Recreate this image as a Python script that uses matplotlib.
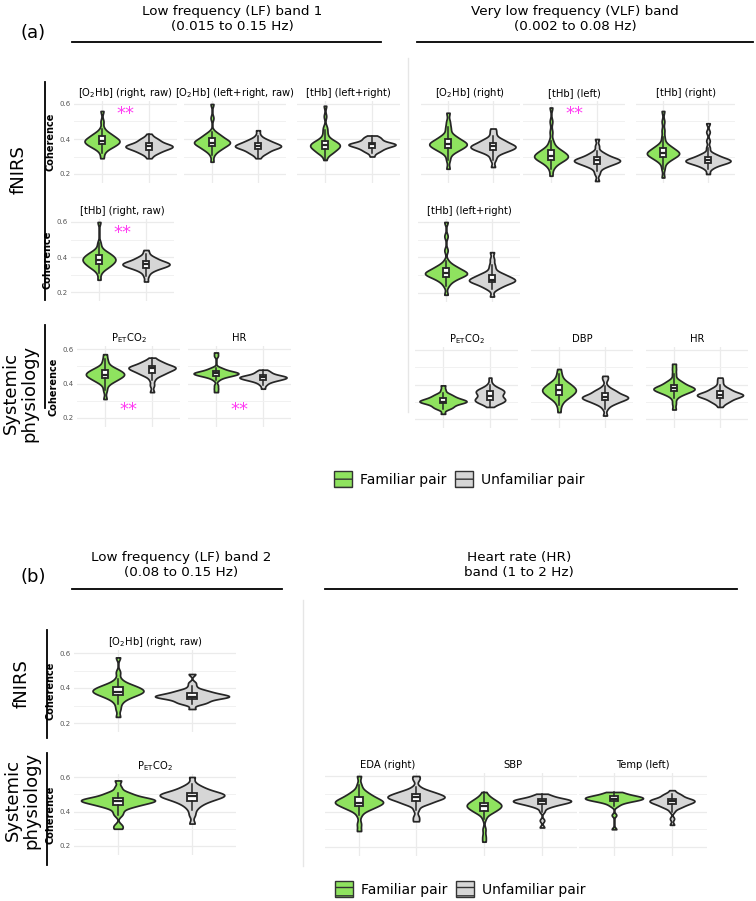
import numpy as np
import matplotlib
matplotlib.use("Agg")
import matplotlib.pyplot as plt
from matplotlib.patches import Patch
from matplotlib.lines import Line2D

plt.rcParams['font.family'] = ['DejaVu Sans']
plt.rcParams['mathtext.fontset'] = 'dejavusans'

# ---------------- data (coherence samples) ----------------
groups = ["Familiar pair", "Unfamiliar pair"]

# (a) LF band 1 - fNIRS
lf1_o2hb_right_raw_fam = [0.29, 0.32, 0.34, 0.35, 0.36, 0.37, 0.37, 0.38, 0.38, 0.39, 0.39, 0.40, 0.40, 0.41, 0.42, 0.43, 0.44, 0.46, 0.50, 0.56,
                          0.35, 0.36, 0.37, 0.38, 0.39, 0.39, 0.40, 0.41, 0.42, 0.43]
lf1_o2hb_right_raw_unf = [0.29, 0.31, 0.32, 0.33, 0.34, 0.34, 0.35, 0.35, 0.35, 0.36, 0.36, 0.36, 0.36, 0.37, 0.37, 0.38, 0.39, 0.40, 0.41, 0.43,
                          0.32, 0.33, 0.34, 0.35, 0.36, 0.36, 0.37, 0.38, 0.39, 0.40]
lf1_o2hb_lr_raw_fam = [0.27, 0.31, 0.33, 0.34, 0.35, 0.36, 0.37, 0.37, 0.38, 0.38, 0.38, 0.39, 0.39, 0.40, 0.41, 0.42, 0.43, 0.44, 0.52, 0.60,
                       0.34, 0.35, 0.36, 0.37, 0.38, 0.38, 0.39, 0.40, 0.41, 0.42]
lf1_o2hb_lr_raw_unf = [0.29, 0.31, 0.32, 0.33, 0.34, 0.35, 0.35, 0.35, 0.36, 0.36, 0.36, 0.36, 0.37, 0.37, 0.38, 0.38, 0.39, 0.40, 0.42, 0.45,
                       0.32, 0.33, 0.34, 0.35, 0.36, 0.36, 0.37, 0.38, 0.39, 0.40]
lf1_thb_lr_fam = [0.28, 0.31, 0.32, 0.33, 0.34, 0.35, 0.35, 0.36, 0.36, 0.37, 0.37, 0.38, 0.38, 0.39, 0.41, 0.43, 0.45, 0.47, 0.53, 0.59,
                  0.32, 0.33, 0.34, 0.35, 0.36, 0.36, 0.37, 0.38, 0.39, 0.40]
lf1_thb_lr_unf = [0.30, 0.32, 0.33, 0.34, 0.35, 0.35, 0.36, 0.36, 0.36, 0.37, 0.37, 0.37, 0.37, 0.37, 0.38, 0.38, 0.39, 0.40, 0.41, 0.42,
                  0.33, 0.34, 0.35, 0.36, 0.37, 0.37, 0.38, 0.39, 0.40, 0.41]
lf1_thb_right_raw_fam = [0.27, 0.31, 0.33, 0.34, 0.35, 0.36, 0.37, 0.37, 0.38, 0.38, 0.39, 0.39, 0.40, 0.40, 0.41, 0.42, 0.43, 0.45, 0.48, 0.60,
                         0.34, 0.35, 0.36, 0.37, 0.38, 0.39, 0.40, 0.41, 0.42, 0.43]
lf1_thb_right_raw_unf = [0.26, 0.29, 0.31, 0.33, 0.34, 0.34, 0.35, 0.35, 0.35, 0.36, 0.36, 0.36, 0.37, 0.37, 0.37, 0.38, 0.39, 0.40, 0.42, 0.44,
                         0.32, 0.33, 0.34, 0.35, 0.36, 0.36, 0.37, 0.38, 0.39, 0.40]
# (a) LF band 1 - systemic
lf1_petco2_fam = [0.31, 0.36, 0.39, 0.41, 0.42, 0.43, 0.44, 0.44, 0.45, 0.45, 0.46, 0.46, 0.47, 0.47, 0.48, 0.49, 0.50, 0.52, 0.54, 0.57,
                  0.41, 0.42, 0.43, 0.44, 0.45, 0.45, 0.46, 0.47, 0.48, 0.49]
lf1_petco2_unf = [0.35, 0.39, 0.42, 0.44, 0.45, 0.46, 0.47, 0.47, 0.48, 0.48, 0.49, 0.49, 0.49, 0.50, 0.50, 0.50, 0.51, 0.52, 0.53, 0.55,
                  0.45, 0.46, 0.47, 0.48, 0.49, 0.49, 0.50, 0.51, 0.52, 0.53]
lf1_hr_fam = [0.35, 0.37, 0.39, 0.42, 0.44, 0.44, 0.45, 0.45, 0.45, 0.46, 0.46, 0.46, 0.46, 0.46, 0.47, 0.47, 0.48, 0.49, 0.56, 0.58,
              0.43, 0.44, 0.45, 0.45, 0.46, 0.46, 0.47, 0.47, 0.48, 0.49]
lf1_hr_unf = [0.37, 0.39, 0.41, 0.42, 0.42, 0.42, 0.43, 0.43, 0.43, 0.43, 0.44, 0.44, 0.44, 0.44, 0.44, 0.45, 0.45, 0.46, 0.47, 0.48,
              0.40, 0.41, 0.42, 0.43, 0.43, 0.44, 0.44, 0.45, 0.46, 0.47]
# (a) VLF band - fNIRS
vlf_o2hb_right_fam = [0.23, 0.28, 0.31, 0.33, 0.34, 0.35, 0.36, 0.36, 0.37, 0.37, 0.37, 0.38, 0.38, 0.39, 0.40, 0.42, 0.45, 0.47, 0.50, 0.55,
                      0.33, 0.34, 0.35, 0.36, 0.37, 0.38, 0.39, 0.40, 0.41, 0.42]
vlf_o2hb_right_unf = [0.24, 0.28, 0.30, 0.32, 0.33, 0.34, 0.34, 0.35, 0.35, 0.35, 0.36, 0.36, 0.37, 0.37, 0.38, 0.39, 0.40, 0.42, 0.44, 0.46,
                      0.32, 0.33, 0.34, 0.35, 0.36, 0.36, 0.37, 0.38, 0.39, 0.40]
vlf_thb_left_fam = [0.19, 0.23, 0.25, 0.27, 0.28, 0.29, 0.29, 0.30, 0.30, 0.31, 0.31, 0.32, 0.33, 0.34, 0.35, 0.37, 0.39, 0.44, 0.50, 0.58,
                    0.26, 0.27, 0.28, 0.29, 0.30, 0.30, 0.31, 0.32, 0.33, 0.34]
vlf_thb_left_unf = [0.16, 0.20, 0.22, 0.24, 0.25, 0.26, 0.26, 0.27, 0.27, 0.27, 0.28, 0.28, 0.28, 0.29, 0.29, 0.30, 0.31, 0.33, 0.36, 0.40,
                    0.24, 0.25, 0.26, 0.27, 0.28, 0.28, 0.29, 0.30, 0.31, 0.32]
vlf_thb_right_fam = [0.18, 0.23, 0.26, 0.28, 0.29, 0.30, 0.31, 0.31, 0.32, 0.32, 0.32, 0.33, 0.34, 0.35, 0.36, 0.38, 0.41, 0.45, 0.50, 0.56,
                     0.28, 0.29, 0.30, 0.31, 0.32, 0.32, 0.33, 0.34, 0.35, 0.36]
vlf_thb_right_unf = [0.20, 0.23, 0.25, 0.26, 0.26, 0.27, 0.27, 0.27, 0.28, 0.28, 0.28, 0.29, 0.29, 0.30, 0.31, 0.32, 0.35, 0.39, 0.44, 0.49,
                     0.24, 0.25, 0.26, 0.27, 0.27, 0.28, 0.28, 0.29, 0.30, 0.31]
vlf_thb_lr_fam = [0.19, 0.24, 0.26, 0.28, 0.29, 0.30, 0.30, 0.31, 0.31, 0.31, 0.32, 0.32, 0.33, 0.34, 0.35, 0.36, 0.38, 0.44, 0.52, 0.60,
                  0.27, 0.28, 0.29, 0.30, 0.31, 0.31, 0.32, 0.33, 0.34, 0.35]
vlf_thb_lr_unf = [0.18, 0.22, 0.24, 0.25, 0.26, 0.26, 0.27, 0.27, 0.27, 0.28, 0.28, 0.29, 0.29, 0.30, 0.31, 0.32, 0.34, 0.36, 0.39, 0.43,
                  0.23, 0.24, 0.25, 0.26, 0.27, 0.27, 0.28, 0.29, 0.30, 0.31]
# (a) VLF band - systemic
vlf_petco2_fam = [0.23, 0.26, 0.27, 0.28, 0.29, 0.29, 0.30, 0.30, 0.30, 0.30, 0.31, 0.31, 0.31, 0.32, 0.32, 0.33, 0.34, 0.35, 0.37, 0.395,
                  0.26, 0.27, 0.28, 0.29, 0.30, 0.30, 0.31, 0.32, 0.33, 0.34]
vlf_petco2_unf = [0.27, 0.29, 0.30, 0.30, 0.31, 0.31, 0.31, 0.32, 0.32, 0.33, 0.34, 0.35, 0.35, 0.36, 0.36, 0.36, 0.37, 0.38, 0.40, 0.44,
                  0.29, 0.30, 0.31, 0.31, 0.32, 0.35, 0.36, 0.36, 0.37, 0.38]
vlf_dbp_fam = [0.24, 0.28, 0.30, 0.32, 0.33, 0.34, 0.35, 0.36, 0.36, 0.37, 0.37, 0.37, 0.38, 0.39, 0.40, 0.41, 0.42, 0.44, 0.46, 0.49,
               0.32, 0.33, 0.34, 0.35, 0.36, 0.37, 0.38, 0.39, 0.40, 0.41]
vlf_dbp_unf = [0.22, 0.26, 0.28, 0.29, 0.30, 0.31, 0.31, 0.32, 0.32, 0.32, 0.33, 0.33, 0.33, 0.34, 0.35, 0.36, 0.37, 0.39, 0.43, 0.45,
               0.29, 0.30, 0.31, 0.32, 0.33, 0.33, 0.34, 0.35, 0.36, 0.37]
vlf_hr_fam = [0.255, 0.29, 0.32, 0.34, 0.35, 0.36, 0.36, 0.37, 0.37, 0.37, 0.38, 0.38, 0.38, 0.39, 0.40, 0.41, 0.43, 0.46, 0.49, 0.52,
              0.34, 0.35, 0.36, 0.37, 0.38, 0.38, 0.39, 0.40, 0.41, 0.42]
vlf_hr_unf = [0.27, 0.29, 0.30, 0.31, 0.32, 0.33, 0.33, 0.33, 0.34, 0.34, 0.34, 0.34, 0.35, 0.35, 0.36, 0.37, 0.38, 0.40, 0.42, 0.44,
              0.30, 0.31, 0.32, 0.33, 0.34, 0.34, 0.35, 0.36, 0.37, 0.38]
# (b) LF band 2
lf2_o2hb_right_raw_fam = [0.235, 0.28, 0.31, 0.33, 0.35, 0.36, 0.37, 0.37, 0.38, 0.38, 0.39, 0.39, 0.40, 0.40, 0.41, 0.42, 0.43, 0.45, 0.49, 0.575,
                          0.34, 0.35, 0.36, 0.37, 0.38, 0.38, 0.39, 0.40, 0.41, 0.42]
lf2_o2hb_right_raw_unf = [0.28, 0.31, 0.32, 0.33, 0.34, 0.34, 0.35, 0.35, 0.35, 0.35, 0.36, 0.36, 0.36, 0.37, 0.37, 0.38, 0.39, 0.41, 0.43, 0.48,
                          0.31, 0.32, 0.33, 0.34, 0.35, 0.35, 0.36, 0.37, 0.38, 0.39]
lf2_petco2_fam = [0.30, 0.32, 0.38, 0.40, 0.42, 0.43, 0.44, 0.45, 0.45, 0.46, 0.46, 0.46, 0.47, 0.47, 0.47, 0.48, 0.49, 0.51, 0.54, 0.58,
                  0.43, 0.44, 0.45, 0.46, 0.47, 0.47, 0.48, 0.49, 0.50, 0.51]
lf2_petco2_unf = [0.33, 0.38, 0.41, 0.43, 0.44, 0.45, 0.46, 0.47, 0.48, 0.48, 0.49, 0.49, 0.50, 0.50, 0.50, 0.51, 0.52, 0.54, 0.56, 0.60,
                  0.46, 0.47, 0.48, 0.49, 0.50, 0.50, 0.51, 0.52, 0.53, 0.54]
# (b) HR band
hrb_eda_right_fam = [0.29, 0.33, 0.38, 0.41, 0.42, 0.43, 0.44, 0.45, 0.45, 0.45, 0.46, 0.46, 0.47, 0.48, 0.49, 0.50, 0.51, 0.52, 0.55, 0.60,
                     0.41, 0.42, 0.43, 0.44, 0.45, 0.45, 0.46, 0.47, 0.48, 0.49]
hrb_eda_right_unf = [0.345, 0.37, 0.41, 0.44, 0.45, 0.46, 0.47, 0.47, 0.48, 0.48, 0.48, 0.49, 0.49, 0.50, 0.50, 0.51, 0.52, 0.54, 0.58, 0.60,
                     0.44, 0.45, 0.46, 0.47, 0.48, 0.48, 0.49, 0.50, 0.51, 0.52]
hrb_sbp_fam = [0.23, 0.26, 0.30, 0.36, 0.39, 0.40, 0.41, 0.42, 0.42, 0.43, 0.43, 0.44, 0.44, 0.45, 0.45, 0.46, 0.47, 0.48, 0.49, 0.51,
               0.39, 0.40, 0.41, 0.42, 0.43, 0.43, 0.44, 0.45, 0.46, 0.47]
hrb_sbp_unf = [0.31, 0.35, 0.40, 0.42, 0.43, 0.44, 0.44, 0.45, 0.45, 0.45, 0.46, 0.46, 0.46, 0.46, 0.47, 0.47, 0.47, 0.48, 0.49, 0.50,
               0.43, 0.44, 0.45, 0.45, 0.46, 0.46, 0.47, 0.47, 0.48, 0.49]
hrb_temp_left_fam = [0.30, 0.38, 0.43, 0.44, 0.45, 0.46, 0.46, 0.46, 0.47, 0.47, 0.47, 0.47, 0.48, 0.48, 0.48, 0.48, 0.49, 0.49, 0.50, 0.51,
                     0.45, 0.46, 0.47, 0.47, 0.48, 0.48, 0.49, 0.49, 0.50, 0.51]
hrb_temp_left_unf = [0.325, 0.36, 0.40, 0.42, 0.43, 0.44, 0.44, 0.45, 0.45, 0.45, 0.46, 0.46, 0.46, 0.47, 0.47, 0.47, 0.48, 0.49, 0.50, 0.52,
                     0.42, 0.43, 0.44, 0.45, 0.46, 0.46, 0.47, 0.48, 0.49, 0.50]

# ---------------- style ----------------
FAM_COLOR = "#8FE35F"
UNF_COLOR = "#D6D6D6"
EDGE = "#262626"
STAR = "#FF3CF2"
GRID = "#EBEBEB"
W, H = 756, 901
MAXW = 1.0

fig = plt.figure(figsize=(W / 100, H / 100), dpi=100)
fig.patch.set_facecolor("white")


def nrd0(x):
    x = np.asarray(x, float)
    sd = np.std(x, ddof=1)
    q75, q25 = np.percentile(x, [75, 25])
    iqr = (q75 - q25) / 1.34
    lo = min(sd, iqr) if iqr > 0 else sd
    return 0.9 * lo * len(x) ** -0.2


def bw_factor(kde):
    x = np.ravel(kde.dataset)
    return nrd0(x) / np.std(x, ddof=1)


def max_density(x):
    x = np.asarray(x, float)
    bw = nrd0(x)
    grid = np.linspace(x.min(), x.max(), 300)
    d = np.exp(-0.5 * ((grid[:, None] - x[None, :]) / bw) ** 2).sum(1) / (len(x) * bw * np.sqrt(2 * np.pi))
    return d.max()


def fline(x0, y0, x1, y1, color="black", lw=1.3):
    fig.add_artist(Line2D([x0 / W, x1 / W], [1 - y0 / H, 1 - y1 / H],
                          transform=fig.transFigure, color=color, lw=lw))


def ftext(x, y, s, **kw):
    fig.text(x / W, 1 - y / H, s, **kw)


YTOP, YBOT = 0.615, 0.15


def panel(title, fam, unf, c1, c2, y06, y02, ylab=False, star=None):
    u = c2 - c1
    left, right = c1 - 0.6 * u, c2 + 0.6 * u
    k = (y02 - y06) / 0.4
    top = y06 - (YTOP - 0.6) * k
    bot = y06 + (0.6 - YBOT) * k
    ax = fig.add_axes([left / W, 1 - bot / H, (right - left) / W, (bot - top) / H])
    ax.set_xlim(0.4, 2.6)
    ax.set_ylim(YBOT, YTOP)
    data = [fam, unf]
    md = [max_density(d) for d in data]
    widths = [MAXW * m / max(md) for m in md]
    parts = ax.violinplot(data, positions=[1, 2], widths=widths, showextrema=False,
                          bw_method=bw_factor, points=300)
    for body, col in zip(parts['bodies'], [FAM_COLOR, UNF_COLOR]):
        body.set_facecolor(col)
        body.set_edgecolor(EDGE)
        body.set_linewidth(1.25)
        body.set_alpha(1)
        body.set_zorder(2)
    ax.boxplot(data, positions=[1, 2], widths=0.13, patch_artist=True, showcaps=False,
               showfliers=False,
               boxprops=dict(facecolor="white", edgecolor=EDGE, linewidth=1.3),
               medianprops=dict(color=EDGE, linewidth=1.6),
               whiskerprops=dict(color=EDGE, linewidth=1.1),
               zorder=3)
    ax.set_xticks([1, 2])
    ax.set_xticklabels([])
    ax.set_yticks([0.2, 0.4, 0.6])
    ax.set_yticks([0.3, 0.5], minor=True)
    ax.grid(True, which='major', color=GRID, lw=0.9)
    ax.grid(True, which='minor', axis='y', color="#F1F1F1", lw=0.7)
    ax.set_axisbelow(True)
    for s in ax.spines.values():
        s.set_visible(False)
    ax.tick_params(axis='both', which='both', length=0)
    ax.tick_params(axis='y', labelsize=5, labelcolor="#555555", pad=2, labelleft=ylab)
    if ylab:
        ax.set_ylabel("Coherence", fontsize=7, fontweight='bold', labelpad=3)
    ax.set_title(title, fontsize=7.2, pad=4)
    if star is not None:
        ax.text(1.5, star, "**", color=STAR, fontsize=13, ha='center', va='center', zorder=5)
    return ax


PET = r"P$_{\mathrm{ET}}$CO$_2$"

# ---------------- (a) ----------------
ftext(33, 33, "(a)", fontsize=13, ha='center', va='center')
ftext(232, 19, "Low frequency (LF) band 1\n(0.015 to 0.15 Hz)", fontsize=9.7, ha='center', va='center', linespacing=1.2)
fline(72, 42, 381, 42)
ftext(575, 19, "Very low frequency (VLF) band\n(0.002 to 0.08 Hz)", fontsize=9.7, ha='center', va='center', linespacing=1.2)
fline(417, 42, 753, 42)
fline(408, 58, 408, 412, color="#E6E6E6", lw=1.0)
fline(45, 82, 45, 300, lw=1.3)
fline(45, 325, 45, 408, lw=1.3)
ftext(19, 170, "fNIRS", fontsize=13, rotation=90, ha='center', va='center')
ftext(20, 393, "Systemic\nphysiology", fontsize=13, rotation=90, ha='center', va='center', linespacing=1.0)

panel("[O$_2$Hb] (right, raw)", lf1_o2hb_right_raw_fam, lf1_o2hb_right_raw_unf, 102, 149, 104, 174, ylab=True, star=0.545)
panel("[O$_2$Hb] (left+right, raw)", lf1_o2hb_lr_raw_fam, lf1_o2hb_lr_raw_unf, 212, 258, 104, 174)
panel("[tHb] (left+right)", lf1_thb_lr_fam, lf1_thb_lr_unf, 325, 372, 104, 174)
panel("[tHb] (right, raw)", lf1_thb_right_raw_fam, lf1_thb_right_raw_unf, 99, 146, 222, 292, ylab=True, star=0.537)
panel(PET, lf1_petco2_fam, lf1_petco2_unf, 105, 152, 349, 418, ylab=True, star=0.246)
panel("HR", lf1_hr_fam, lf1_hr_unf, 216, 263, 349, 418, star=0.246)

panel("[O$_2$Hb] (right)", vlf_o2hb_right_fam, vlf_o2hb_right_unf, 448, 493, 104, 174)
panel("[tHb] (left)", vlf_thb_left_fam, vlf_thb_left_unf, 551, 597, 104, 174, star=0.545)
panel("[tHb] (right)", vlf_thb_right_fam, vlf_thb_right_unf, 663, 708, 104, 174)
panel("[tHb] (left+right)", vlf_thb_lr_fam, vlf_thb_lr_unf, 446, 492, 222, 293)
panel(PET, vlf_petco2_fam, vlf_petco2_unf, 443, 490, 350, 419)
panel("DBP", vlf_dbp_fam, vlf_dbp_unf, 559, 605, 350, 419)
panel("HR", vlf_hr_fam, vlf_hr_unf, 674, 720, 350, 419)

legend_handles = [Patch(facecolor=FAM_COLOR, edgecolor="#333333", hatch='--', lw=1.0),
                  Patch(facecolor=UNF_COLOR, edgecolor="#333333", hatch='--', lw=1.0)]
fig.legend(legend_handles, groups, loc='center', bbox_to_anchor=(459 / W, 1 - 479 / H), ncol=2,
           frameon=False, fontsize=10, handlelength=1.3, handleheight=1.3, handletextpad=0.6,
           columnspacing=0.6)

# ---------------- (b) ----------------
ftext(33, 577, "(b)", fontsize=13, ha='center', va='center')
ftext(181, 565, "Low frequency (LF) band 2\n(0.08 to 0.15 Hz)", fontsize=9.7, ha='center', va='center', linespacing=1.2)
fline(72, 589, 282, 589)
ftext(519, 565, "Heart rate (HR)\nband (1 to 2 Hz)", fontsize=9.7, ha='center', va='center', linespacing=1.2)
fline(325, 589, 737, 589)
fline(303, 600, 303, 866, color="#E6E6E6", lw=1.0)
fline(47, 630, 47, 738, lw=1.3)
fline(47, 753, 47, 865, lw=1.3)
ftext(22, 684, "fNIRS", fontsize=13, rotation=90, ha='center', va='center')
ftext(22, 800, "Systemic\nphysiology", fontsize=13, rotation=90, ha='center', va='center', linespacing=1.0)

panel("[O$_2$Hb] (right, raw)", lf2_o2hb_right_raw_fam, lf2_o2hb_right_raw_unf, 118, 192, 653, 723, ylab=True)
panel(PET, lf2_petco2_fam, lf2_petco2_unf, 118, 192, 777, 846, ylab=True)
panel("EDA (right)", hrb_eda_right_fam, hrb_eda_right_unf, 359, 416, 776, 847)
panel("SBP", hrb_sbp_fam, hrb_sbp_unf, 484, 542, 776, 847)
panel("Temp (left)", hrb_temp_left_fam, hrb_temp_left_unf, 614, 672, 776, 847)

fig.legend(legend_handles, groups, loc='center', bbox_to_anchor=(460 / W, 1 - 889 / H), ncol=2,
           frameon=False, fontsize=10, handlelength=1.3, handleheight=1.3, handletextpad=0.6,
           columnspacing=0.6)

fig.savefig("out.png", dpi=100, facecolor="white")
